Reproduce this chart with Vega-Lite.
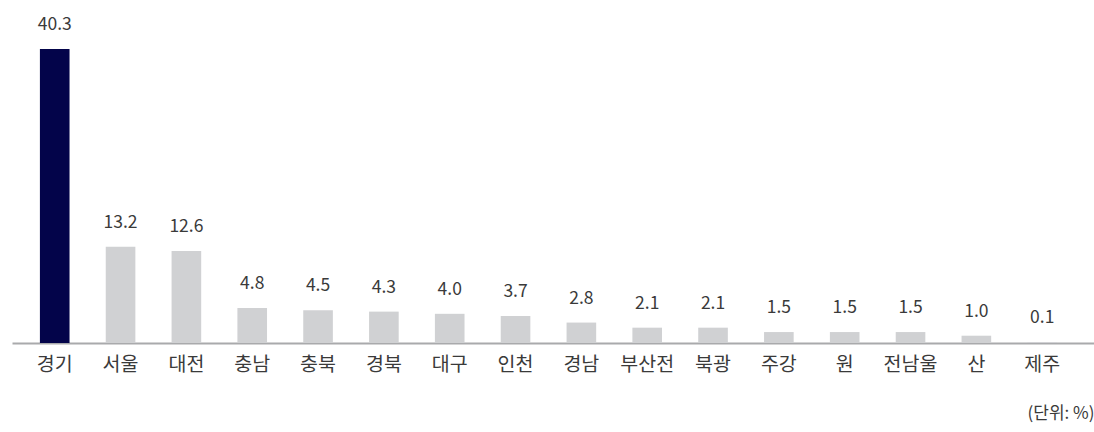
{
  "$schema": "https://vega.github.io/schema/vega-lite/v6.json",
  "width": 1082,
  "height": 343,
  "autosize": {"type": "none"},
  "padding": {"left": 12, "top": 0, "right": 0, "bottom": 89},
  "background": "#ffffff",
  "config": {
    "view": {"stroke": null},
    "font": "Noto Sans CJK KR"
  },
  "data": {
    "values": [
      {"region": "경기", "value": 40.3, "highlight": true},
      {"region": "서울", "value": 13.2, "highlight": false},
      {"region": "대전", "value": 12.6, "highlight": false},
      {"region": "충남", "value": 4.8, "highlight": false},
      {"region": "충북", "value": 4.5, "highlight": false},
      {"region": "경북", "value": 4.3, "highlight": false},
      {"region": "대구", "value": 4.0, "highlight": false},
      {"region": "인천", "value": 3.7, "highlight": false},
      {"region": "경남", "value": 2.8, "highlight": false},
      {"region": "부산전", "value": 2.1, "highlight": false},
      {"region": "북광", "value": 2.1, "highlight": false},
      {"region": "주강", "value": 1.5, "highlight": false},
      {"region": "원", "value": 1.5, "highlight": false},
      {"region": "전남울", "value": 1.5, "highlight": false},
      {"region": "산", "value": 1.0, "highlight": false},
      {"region": "제주", "value": 0.1, "highlight": false}
    ]
  },
  "encoding": {
    "x": {
      "field": "region",
      "type": "nominal",
      "sort": null,
      "scale": {"paddingInner": 0.55, "paddingOuter": 0.493, "align": 0.43},
      "axis": {
        "title": "(단위: %)",
        "titleAnchor": "end",
        "titleAlign": "right",
        "titleFontSize": 17,
        "titleFontWeight": "normal",
        "titleColor": "#3a3a3a",
        "titlePadding": 32,
        "labelAngle": 0,
        "labelFontSize": 19.5,
        "labelFontWeight": "normal",
        "labelColor": "#3a3a3a",
        "labelPadding": 12,
        "ticks": false,
        "domainColor": "#a9aaac",
        "domainWidth": 2
      }
    },
    "y": {
      "field": "value",
      "type": "quantitative",
      "scale": {"domain": [0, 47]},
      "axis": null
    }
  },
  "layer": [
    {
      "mark": {"type": "bar"},
      "encoding": {
        "color": {
          "field": "highlight",
          "type": "nominal",
          "scale": {"domain": [true, false], "range": ["#03044a", "#d0d1d3"]},
          "legend": null
        }
      }
    },
    {
      "mark": {"type": "text", "baseline": "alphabetic", "dy": -19, "fontSize": 17.5, "fontWeight": "normal", "color": "#3a3a3a"},
      "encoding": {
        "text": {"field": "value", "type": "quantitative", "format": ".1f"}
      }
    }
  ]
}
